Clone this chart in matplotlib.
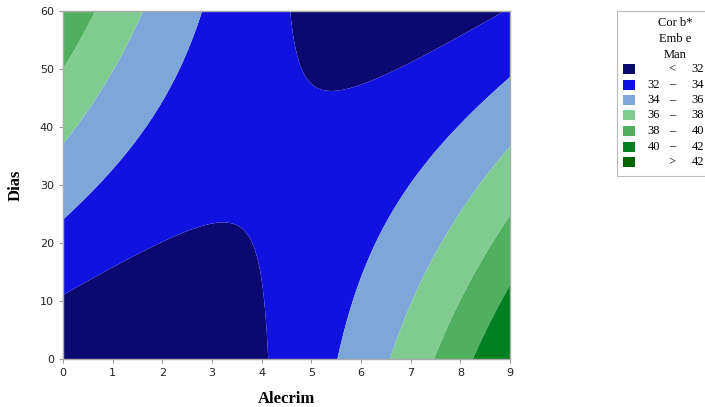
import matplotlib
matplotlib.use("Agg")
import matplotlib.pyplot as plt
from matplotlib.patches import Rectangle
import numpy as np

# fitted response surface (quadratic)
# z = b0 + b1*x + b2*y + b11*x^2 + b22*y^2 + b12*x*y
b0 = 30.3
b1 = -0.355
b2 = 0.154
b11 = 0.1855
b22 = 0.0
b12 = -0.0357

levels = [0, 32, 34, 36, 38, 40, 42, 100]
level_labels = [["", "<", "32"], ["32", "\u2013", "34"], ["34", "\u2013", "36"],
                ["36", "\u2013", "38"], ["38", "\u2013", "40"], ["40", "\u2013", "42"],
                ["", ">", "42"]]
colors = ["#0b0870", "#1212e0", "#7da7d9", "#80cc90", "#50b060", "#008020", "#006400"]
x_ticks = list(range(0, 10))
y_ticks = [0, 10, 20, 30, 40, 50, 60]

fig = plt.figure(figsize=(7.05, 4.07), dpi=100)
ax = fig.add_axes([63 / 705, 48 / 407, 447 / 705, 348 / 407])

xx, yy = np.meshgrid(np.linspace(0, 9, 400), np.linspace(0, 60, 400))
zz = b0 + b1 * xx + b2 * yy + b11 * xx ** 2 + b22 * yy ** 2 + b12 * xx * yy
ax.contourf(xx, yy, zz, levels=levels, colors=colors, antialiased=True)

ax.set_xlim(0, 9)
ax.set_ylim(0, 60)
ax.set_xticks(x_ticks)
ax.set_yticks(y_ticks)
ax.tick_params(labelsize=8, color="#999999", length=3, width=0.8, labelcolor="#222222")
for s in ax.spines.values():
    s.set_color("#aaaaaa")
    s.set_linewidth(1)
ax.set_xlabel("Alecrim", family="Liberation Serif", fontweight="bold", fontsize=12, labelpad=9)
ax.set_ylabel("Dias", family="Liberation Serif", fontweight="bold", fontsize=12, labelpad=12)


# legend drawn by hand (box runs off the right edge like the original)
def fx(px):
    return px / 705


def fy(py):
    return 1 - py / 407


fig.patches.append(Rectangle((fx(617), fy(176)), fx(120), 165 / 407, transform=fig.transFigure,
                             facecolor="white", edgecolor="#bbbbbb", linewidth=0.8))
for i, line in enumerate(["Cor b*", "Emb e", "Man"]):
    fig.text(fx(675), fy(23 + 16 * i), line, ha="center", va="center",
             family="Liberation Serif", fontsize=9)
for i, (c, lab) in enumerate(zip(colors, level_labels)):
    yc = 69 + 15.5 * i
    fig.patches.append(Rectangle((fx(623), fy(yc + 5)), fx(12), 10 / 407,
                                 transform=fig.transFigure, facecolor=c, edgecolor="none"))
    fig.text(fx(660), fy(yc), lab[0], ha="right", va="center", family="Liberation Serif", fontsize=9)
    fig.text(fx(672), fy(yc), lab[1], ha="center", va="center", family="Liberation Serif", fontsize=9)
    fig.text(fx(704), fy(yc), lab[2], ha="right", va="center", family="Liberation Serif", fontsize=9)

fig.savefig("out.png", dpi=100)
